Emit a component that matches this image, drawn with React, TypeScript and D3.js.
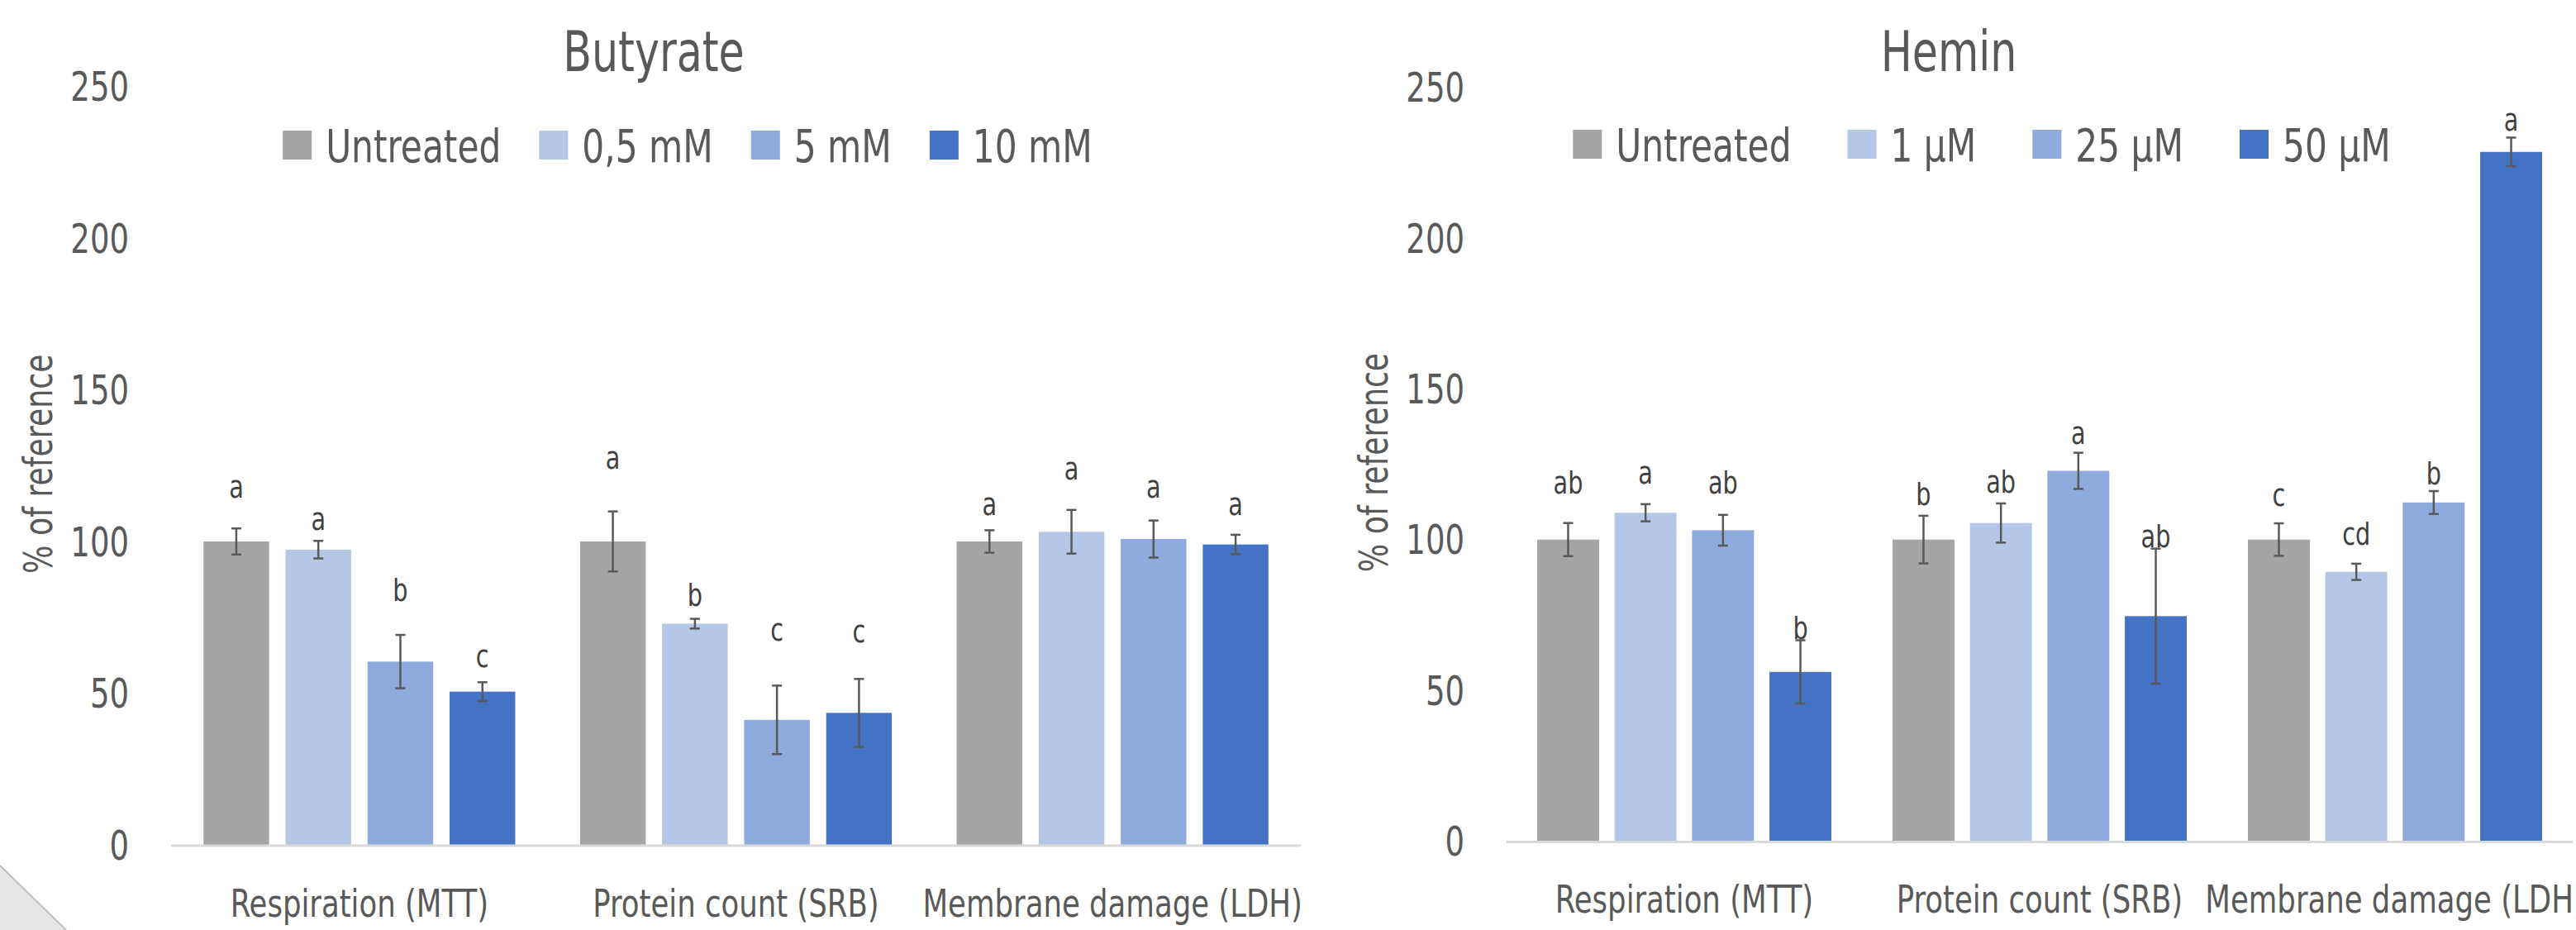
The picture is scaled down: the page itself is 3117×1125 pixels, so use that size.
import React, { useEffect, useRef } from 'react';
import * as d3 from 'd3';

// shared categories and axis ticks
const categories = ['Respiration (MTT)', 'Protein count (SRB)', 'Membrane damage (LDH)'];
const yTicks = [0, 50, 100, 150, 200, 250];
const seriesColors = ['#A5A5A5', '#B4C7E7', '#8FAADC', '#4472C4'];

// Butyrate panel
const butyrateSeries = ['Untreated', '0,5 mM', '5 mM', '10 mM'];
const butyrateValues = [
  [100, 100, 100],
  [97.3, 72.9, 103.2],
  [60.4, 41.2, 100.8],
  [50.5, 43.5, 99.0],
];
const butyrateErrors = [
  [4.3, 9.9, 3.7],
  [2.9, 1.6, 7.2],
  [8.8, 11.3, 6.1],
  [3.1, 11.2, 3.2],
];
const butyrateLetters = [
  ['a', 'a', 'a'],
  ['a', 'b', 'a'],
  ['b', 'c', 'a'],
  ['c', 'c', 'a'],
];
// where the letters sit, in % of reference
const butyrateLetterAt = [
  [118.3, 127.6, 112.4],
  [107.5, 82.5, 124.3],
  [84.2, 71.1, 118.3],
  [62.4, 70.6, 112.4],
];

// Hemin panel
const heminSeries = ['Untreated', '1 µM', '25 µM', '50 µM'];
const heminValues = [
  [100, 100, 100],
  [108.9, 105.5, 89.3],
  [103.1, 122.8, 112.3],
  [56.1, 74.6, 228.6],
];
const heminErrors = [
  [5.5, 7.9, 5.4],
  [2.85, 6.5, 2.7],
  [5.1, 6.0, 3.8],
  [10.5, 22.4, 4.75],
];
const heminLetters = [
  ['ab', 'b', 'c'],
  ['a', 'ab', 'cd'],
  ['ab', 'a', 'b'],
  ['b', 'ab', 'a'],
];
const heminLetterAt = [
  [118.9, 115.1, 115.0],
  [122.2, 119.3, 101.9],
  [118.9, 135.6, 122.1],
  [70.9, 101.3, 239.4],
];

const FONT = "'DejaVu Sans Condensed', 'DejaVu Sans', sans-serif";
const TEXT = '#595959';
const SQUEEZE = 0.84; // the original font is a narrow one

// text squeezed horizontally around its anchor point
function label(parent, x, y, str, size, anchor = 'middle', fill = TEXT) {
  return parent.append('text')
    .attr('transform', `translate(${x},${y}) scale(${SQUEEZE},1)`)
    .attr('dy', '0.36em').attr('text-anchor', anchor)
    .attr('font-size', size).attr('fill', fill).text(str);
}

function drawPanel(svg, cfg) {
  const g = svg.append('g');
  const x0 = d3.scaleBand().domain(categories).range([cfg.left, cfg.right]);
  const x1 = d3.scaleBand().domain(cfg.series).range([0, x0.bandwidth()])
    .paddingInner(0.2).paddingOuter(0.395);
  const y = d3.scaleLinear().domain([0, 250]).range([cfg.bottom, cfg.top]);

  label(g, cfg.titleX, 62, cfg.title, 67);

  yTicks.forEach(t => label(g, cfg.left - 51, y(t), t, 49, 'end'));

  g.append('text')
    .attr('transform', `translate(${cfg.left - 144},${(cfg.top + cfg.bottom) / 2 - 2}) rotate(-90) scale(${SQUEEZE},1)`)
    .attr('text-anchor', 'middle').attr('font-size', 48).attr('fill', TEXT).text('% of reference');

  cfg.series.forEach((s, si) => {
    categories.forEach((c, ci) => {
      const v = cfg.values[si][ci];
      const e = cfg.errors[si][ci];
      const bx = x0(c) + x1(s);
      const cx = bx + x1.bandwidth() / 2;
      g.append('rect').attr('x', bx).attr('y', y(v)).attr('width', x1.bandwidth())
        .attr('height', y(0) - y(v)).attr('fill', seriesColors[si]);
      const eg = g.append('g').attr('stroke', '#595959').attr('stroke-width', 2.5);
      eg.append('line').attr('x1', cx).attr('x2', cx).attr('y1', y(v - e)).attr('y2', y(v + e));
      eg.append('line').attr('x1', cx - 6).attr('x2', cx + 6).attr('y1', y(v - e)).attr('y2', y(v - e));
      eg.append('line').attr('x1', cx - 6).attr('x2', cx + 6).attr('y1', y(v + e)).attr('y2', y(v + e));
      label(g, cx, y(cfg.letterAt[si][ci]), cfg.letters[si][ci], 38, 'middle', '#404040');
    });
  });

  g.append('line').attr('x1', cfg.left).attr('x2', cfg.right)
    .attr('y1', y(0) + 1).attr('y2', y(0) + 1).attr('stroke', '#D9D9D9').attr('stroke-width', 3);

  categories.forEach(c => label(g, x0(c) + x0.bandwidth() / 2, y(0) + 70, c, 47));

  // legend, laid out from measured text widths
  const lg = g.append('g');
  let cursor = 0;
  cfg.series.forEach((s, si) => {
    lg.append('rect').attr('x', cursor).attr('y', cfg.legendY - 17.5)
      .attr('width', 35).attr('height', 35).attr('fill', seriesColors[si]);
    const t = label(lg, cursor + 52, cfg.legendY, s, 56, 'start');
    cursor += 52 + t.node().getComputedTextLength() * SQUEEZE + cfg.legendGap;
  });
  const total = cursor - cfg.legendGap;
  lg.attr('transform', `translate(${cfg.legendCenter - total / 2},0)`);
}

export default function App() {
  const ref = useRef(null);
  useEffect(() => {
    const svg = d3.select(ref.current);
    svg.selectAll('*').remove();
    svg.append('rect').attr('width', 3117).attr('height', 1125).attr('fill', '#fff');
    // slide decoration, bottom left corner
    svg.append('polygon').attr('points', '0,1047 80,1125 0,1125').attr('fill', '#E7E6E6');
    svg.append('line').attr('x1', 0).attr('y1', 1047).attr('x2', 80).attr('y2', 1125)
      .attr('stroke', '#BFBFBF').attr('stroke-width', 2);

    drawPanel(svg, {
      title: 'Butyrate', series: butyrateSeries, values: butyrateValues, errors: butyrateErrors,
      letters: butyrateLetters, letterAt: butyrateLetterAt,
      left: 207, right: 1574, top: 104.5, bottom: 1022,
      titleX: 791, legendY: 175.5, legendCenter: 832, legendGap: 46,
    });
    drawPanel(svg, {
      title: 'Hemin', series: heminSeries, values: heminValues, errors: heminErrors,
      letters: heminLetters, letterAt: heminLetterAt,
      left: 1823, right: 3113, top: 105.7, bottom: 1017.4,
      titleX: 2358, legendY: 174.5, legendCenter: 2398, legendGap: 68,
    });
  }, []);

  return (
    <svg ref={ref} width={3117} height={1125}
      style={{ position: 'absolute', left: 0, top: 0, fontFamily: FONT }} />
  );
}
